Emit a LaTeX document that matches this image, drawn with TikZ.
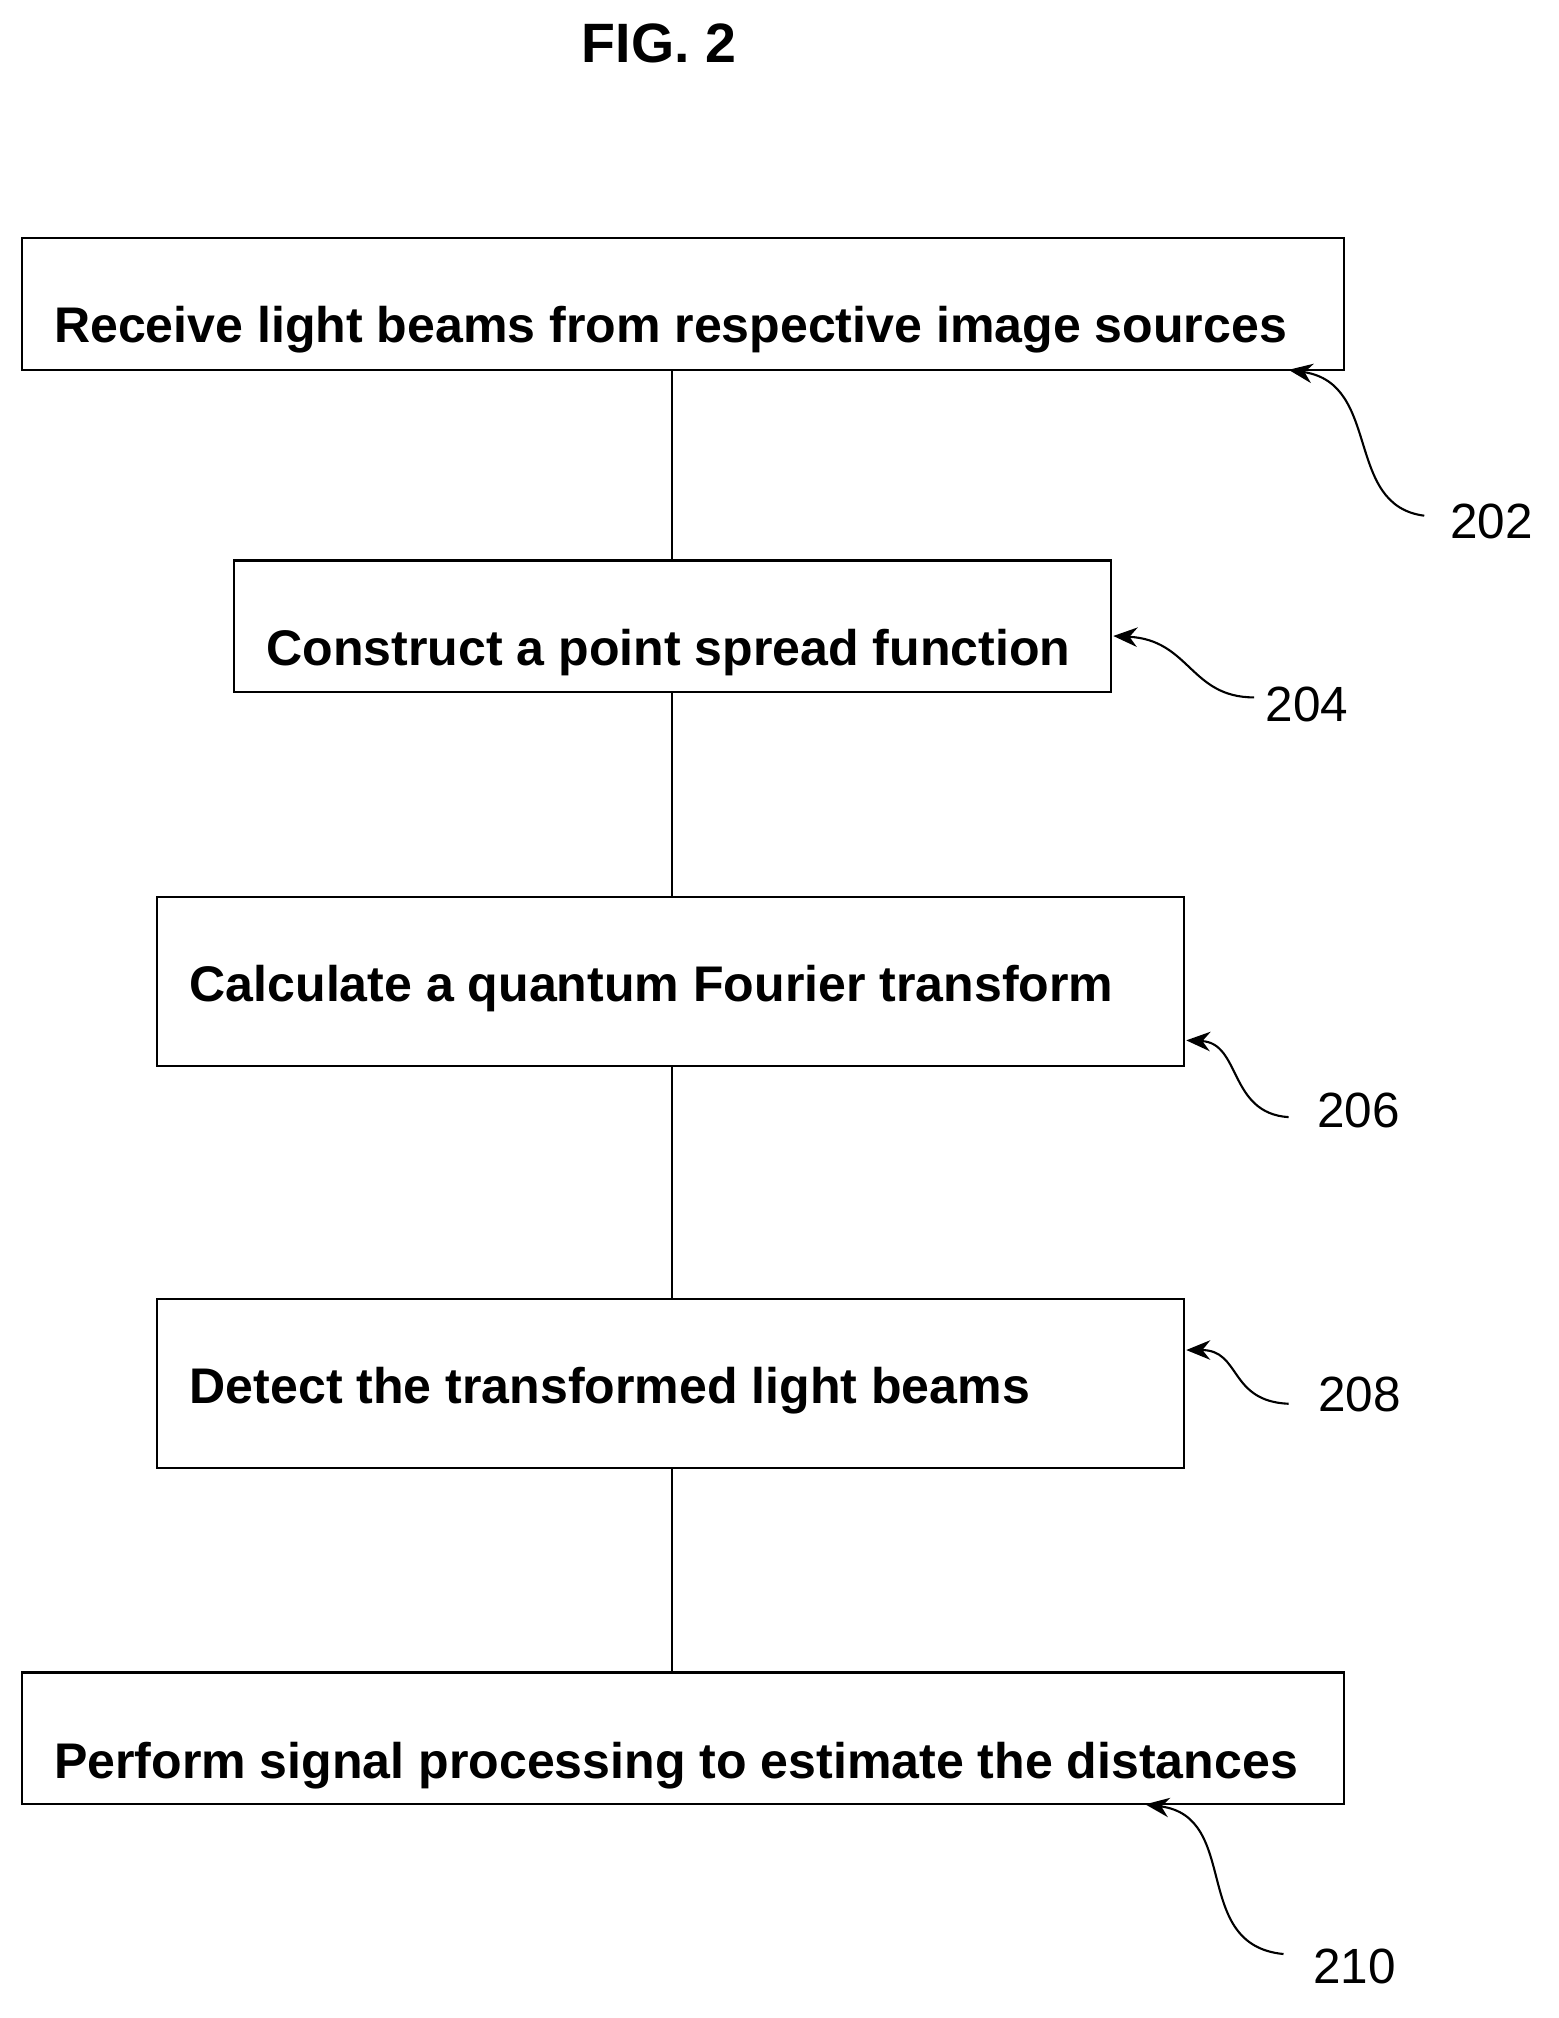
\documentclass[tikz,border=0pt]{standalone}
\usepackage{fontspec}
\setmainfont{Liberation Sans}
\usetikzlibrary{arrows.meta}
\begin{document}
\begin{tikzpicture}[x=0.03cm,y=-0.03cm,
  box/.style={draw,line width=1.4pt},
  txt/.style={anchor=base west,inner sep=0,font=\fontsize{33.4}{38}\selectfont\bfseries},
  lbl/.style={anchor=base west,inner sep=0,font=\fontsize{33}{38}\selectfont},
  link/.style={line width=1.4pt},
  call/.style={line width=1.4pt,-{Stealth[length=16pt,width=13pt]}}]
\useasboundingbox (0,0) rectangle (1218,1577);
\node[font=\fontsize{37}{42}\selectfont\bfseries] (fig) at (515,34) {FIG. 2};
\draw[box] (17,186) rectangle (1050,289);
\coordinate (b1t) at (525,186); \coordinate (b1b) at (525,289);
\node[txt] (t1) at (42,268) {Receive light beams from respective image sources};
\draw[box] (183,438) rectangle (868,541);
\coordinate (b2t) at (525,438); \coordinate (b2b) at (525,541);
\node[txt] (t2) at (208,520) {Construct a point spread function};
\draw[box] (123,701) rectangle (925,833);
\coordinate (b3t) at (525,701); \coordinate (b3b) at (525,833);
\node[txt] (t3) at (148,783) {Calculate a quantum Fourier transform};
\draw[box] (123,1015) rectangle (925,1147);
\coordinate (b4t) at (525,1015); \coordinate (b4b) at (525,1147);
\node[txt] (t4) at (148,1097) {Detect the transformed light beams};
\draw[box] (17,1307) rectangle (1050,1410);
\coordinate (b5t) at (525,1307);
\node[txt] (t5) at (42,1390) {Perform signal processing to estimate the distances};
\draw[link] (b1b) -- (b2t);
\draw[link] (b2b) -- (b3t);
\draw[link] (b3b) -- (b4t);
\draw[link] (b4b) -- (b5t);
\node[lbl] (l1) at (1133,421) {202};
\node[lbl] (l2) at (989,564) {204};
\node[lbl] (l3) at (1029,881) {206};
\node[lbl] (l4) at (1030,1103) {208};
\node[lbl] (l5) at (1026,1550) {210};
\coordinate (c1) at (1007,289); \coordinate (c2) at (870,497);
\coordinate (c3) at (927,813); \coordinate (c4) at (927,1055);
\coordinate (c5) at (895,1410);
\draw[call] (1113,403) .. controls (1050,395) and (1080,300) .. (c1);
\draw[call] (980,545) .. controls (930,545) and (930,500) .. (c2);
\draw[call] (1007,873) .. controls (960,870) and (970,815) .. (c3);
\draw[call] (1007,1097) .. controls (960,1095) and (970,1055) .. (c4);
\draw[call] (1003,1527) .. controls (930,1520) and (970,1420) .. (c5);
\end{tikzpicture}
\end{document}
